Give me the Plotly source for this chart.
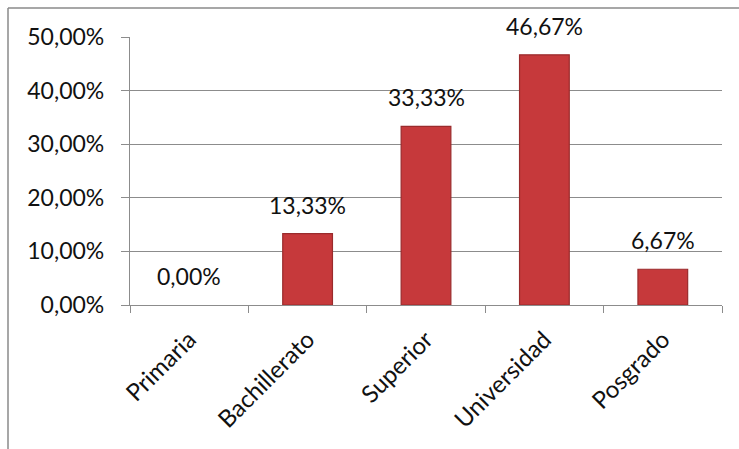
import plotly.graph_objects as go

categories = ["Primaria", "Bachillerato", "Superior", "Universidad", "Posgrado"]
shares = [0.0, 0.1333, 0.3333, 0.4667, 0.0667]
y_ticks = [0.0, 0.1, 0.2, 0.3, 0.4, 0.5]

FONT = "Lato, Carlito, Calibri, sans-serif"
GRID = "#8c8c8c"

W, H = 739, 449
L, R, T, B = 130, 17, 37, 144
pw, ph = W - L - R, H - T - B

fig = go.Figure()
fig.add_trace(go.Bar(
    x=categories, y=shares, width=0.42,
    marker=dict(color="#c6393b",
                line=dict(color="#9a2b2c",
                          width=[1.2 if v > 0 else 0 for v in shares])),
    hoverinfo="skip",
))

# value labels sitting above each bar
for c, v in zip(categories, shares):
    fig.add_annotation(
        x=c, y=v, text=f"{v*100:.2f}%".replace(".", ","),
        showarrow=False, yanchor="bottom", yshift=13,
        font=dict(family=FONT, size=23, color="#111"),
    )

# frame lines along the top and left of the picture
def px_to_paper_x(px):
    return (px - L) / pw

def px_to_paper_y(py):
    return 1 - (py - T) / ph

fig.add_shape(type="line", xref="paper", yref="paper",
              x0=px_to_paper_x(8), x1=px_to_paper_x(W + 5),
              y0=px_to_paper_y(8), y1=px_to_paper_y(8),
              line=dict(color="#8a8a8a", width=1.5))
fig.add_shape(type="line", xref="paper", yref="paper",
              x0=px_to_paper_x(8), x1=px_to_paper_x(8),
              y0=px_to_paper_y(8), y1=px_to_paper_y(H + 5),
              line=dict(color="#8a8a8a", width=1.5))

fig.update_layout(
    width=W, height=H,
    margin=dict(l=L, r=R, t=T, b=B, autoexpand=False),
    paper_bgcolor="white", plot_bgcolor="white",
    separators=",.",
    showlegend=False,
    font=dict(family=FONT, size=23, color="#111"),
)
fig.update_yaxes(
    range=[0, 0.5], tickvals=y_ticks, tickformat=".2%",
    showgrid=True, gridcolor=GRID, gridwidth=1.2,
    showline=True, linecolor=GRID, linewidth=1.2,
    ticks="outside", ticklen=8, tickcolor=GRID, tickwidth=1.2,
    ticklabelstandoff=12, zeroline=False,
    tickfont=dict(family=FONT, size=23, color="#111"),
)
fig.update_xaxes(
    showline=True, linecolor=GRID, linewidth=1.2,
    ticks="outside", ticklen=7, tickcolor=GRID, tickwidth=1.2,
    tickson="boundaries", tickangle=-45, ticklabelstandoff=10,
    showgrid=False,
    tickfont=dict(family=FONT, size=24, color="#111"),
)

fig.write_html("out.html")
